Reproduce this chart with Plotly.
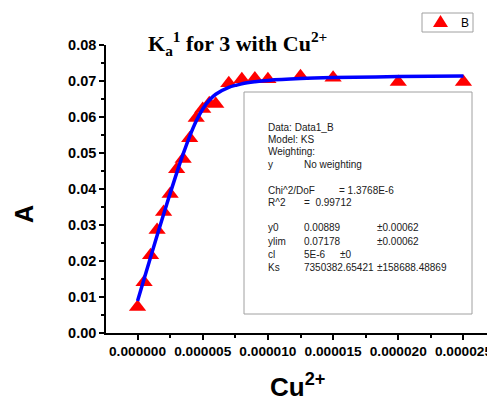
import plotly.graph_objects as go

# ---- data ----
cu_conc = [0, 0.5e-6, 1.0e-6, 1.5e-6, 2.0e-6, 2.5e-6, 3.0e-6, 3.5e-6, 4.0e-6, 4.5e-6,
           5.0e-6, 5.5e-6, 6.0e-6, 7.0e-6, 8.0e-6, 9.0e-6, 10.0e-6, 12.5e-6, 15.0e-6,
           20.0e-6, 25.0e-6]
absorb = [0.0072, 0.0141, 0.0216, 0.0286, 0.0336, 0.0386, 0.0455, 0.0483, 0.0541, 0.0597,
          0.0622, 0.0638, 0.0636, 0.0694, 0.0705, 0.0707, 0.0705, 0.0713, 0.0709,
          0.0697, 0.0697]

fit_x = [0, 0.5e-6, 1.0e-6, 1.5e-6, 2.0e-6, 2.5e-6, 3.0e-6, 3.5e-6, 4.0e-6, 4.5e-6,
         5.0e-6, 5.5e-6, 6.0e-6, 7.0e-6, 8.0e-6, 9.0e-6, 10.0e-6, 12.5e-6, 15.0e-6,
         20.0e-6, 25.0e-6]
fit_y = [0.00889, 0.01500, 0.02106, 0.02706, 0.03298, 0.03879, 0.04441, 0.04974, 0.05464,
         0.05887, 0.06223, 0.06466, 0.06633, 0.06824, 0.06922, 0.06979, 0.07016, 0.07067,
         0.07094, 0.07122, 0.07136]

x_ticks = [0, 5e-6, 10e-6, 15e-6, 20e-6, 25e-6]
y_ticks = [0, 0.01, 0.02, 0.03, 0.04, 0.05, 0.06, 0.07, 0.08]

fit_info = [
    ("Data: Data1_B", None, None),
    ("Model: KS", None, None),
    ("Weighting:", None, None),
    ("y", "No weighting", None),
    (None, None, None),
    ("Chi^2/DoF", None, "= 1.3768E-6"),
    ("R^2", "=  0.99712", None),
    (None, None, None),
    ("y0", "0.00889", "±0.00062"),
    ("ylim", "0.07178", "±0.00062"),
    ("cl", "5E-6", "±0"),
    ("Ks", "7350382.65421", "±158688.48869"),
]

# the page body adds an 8 px offset; the figure is sized to fill the rest
OFF = 8
W, H = 495 - OFF, 401 - OFF
L, R, T, B = 106 - OFF, 0, 45 - OFF, 68
PW, PH = W - L - R, H - T - B


def px(x):  # reference-screen x pixel -> paper
    return (x - 106) / PW


def py(y):  # reference-screen y pixel -> paper
    return (333 - y) / PH


fig = go.Figure()
fig.add_trace(go.Scatter(x=cu_conc, y=absorb, mode="markers", name="B",
                         marker=dict(symbol="triangle-up", size=15, color="#ff0000",
                                     line=dict(width=0))))
fig.add_trace(go.Scatter(x=fit_x, y=fit_y, mode="lines", showlegend=False,
                         line=dict(color="#0000ff", width=3.5, shape="spline")))

fig.update_xaxes(range=[-2.42e-6, 2.742e-5], tickvals=x_ticks, tickformat=".6f",
                 showline=True, linecolor="black", linewidth=1.5, ticks="outside",
                 ticklen=5, tickwidth=1.5, tickcolor="black", showgrid=False, zeroline=False,
                 tickfont=dict(family="Liberation Sans, Arial", size=13.7, color="black",
                               weight="bold"),
                 automargin=False,
                 minor=dict(ticks="outside", ticklen=3, tickwidth=1.5, tickcolor="black",
                            dtick=2.5e-6, tick0=0, showgrid=False))
fig.update_yaxes(range=[0, 0.08], tickvals=y_ticks, tickformat=".2f",
                 showline=True, linecolor="black", linewidth=1.5, ticks="outside",
                 ticklen=5, tickwidth=1.5, tickcolor="black", showgrid=False, zeroline=False,
                 tickfont=dict(family="Liberation Sans, Arial", size=14.5, color="black",
                               weight="bold"),
                 automargin=False,
                 minor=dict(ticks="outside", ticklen=3, tickwidth=1.5, tickcolor="black",
                            dtick=0.005, tick0=0, showgrid=False))

shapes = [
    dict(type="rect", xref="paper", yref="paper", x0=px(244), x1=px(472),
         y0=py(314), y1=py(92), line=dict(color="#a0a0a0", width=1),
         fillcolor="white", layer="below"),
    # legend frame and symbol
    dict(type="rect", xref="paper", yref="paper", x0=px(422), x1=px(473),
         y0=py(32), y1=py(13), line=dict(color="#a0a0a0", width=1), fillcolor="white"),
    dict(type="path", xref="paper", yref="paper",
         path=f"M {px(433)},{py(27)} L {px(448)},{py(27)} L {px(440.5)},{py(15)} Z",
         line=dict(width=0), fillcolor="#ff0000"),
]

annotations = []
box_font = dict(family="Liberation Sans, Arial", size=10, color="#202020")
row_y = [127, 139.3, 151.7, 164.3, 177, 190, 202.3, 215, 227.7, 241, 254, 267.7]
for (a, b, c), yy in zip(fit_info, row_y):
    if a:
        annotations.append(dict(text=a, x=px(265.5), y=py(yy), xref="paper", yref="paper",
                                xanchor="left", yanchor="middle", showarrow=False, font=box_font))
    if b:
        annotations.append(dict(text=b, x=px(301.5), y=py(yy), xref="paper", yref="paper",
                                xanchor="left", yanchor="middle", showarrow=False, font=box_font))
    if c:
        cx = 375 if a in ("y0", "ylim", "Ks") else (337.3 if a == "Chi^2/DoF" else 338.3)
        annotations.append(dict(text=c, x=px(cx), y=py(yy), xref="paper", yref="paper",
                                xanchor="left", yanchor="middle", showarrow=False, font=box_font))

annotations.append(dict(text="B", x=px(464.5), y=py(22.5), xref="paper", yref="paper",
                        xanchor="center", yanchor="middle", showarrow=False,
                        font=dict(family="Liberation Sans, Arial", size=12, color="black")))
annotations.append(dict(text="K<sub>a</sub><sup>1</sup> for 3 with Cu<sup>2+</sup>",
                        x=px(146), y=py(43), xref="paper", yref="paper", xanchor="left",
                        yanchor="middle", showarrow=False,
                        font=dict(family="Liberation Serif, Times New Roman", size=22,
                                  color="black", weight="bold")))
annotations.append(dict(text="A", x=px(24), y=py(214), xref="paper", yref="paper",
                        xanchor="center", yanchor="middle", textangle=-90, showarrow=False,
                        font=dict(family="Liberation Sans, Arial", size=25, color="black",
                                  weight="bold")))
annotations.append(dict(text="Cu<sup>2+</sup>", x=px(297), y=py(385), xref="paper",
                        yref="paper", xanchor="center", yanchor="middle", showarrow=False,
                        font=dict(family="Liberation Sans, Arial", size=26, color="black",
                                  weight="bold")))

fig.update_layout(
    width=W, height=H, margin=dict(l=L, r=R, t=T, b=B, pad=0, autoexpand=False),
    plot_bgcolor="white", paper_bgcolor="white",
    shapes=shapes, annotations=annotations,
    showlegend=False,
)

fig.write_html("out.html")
